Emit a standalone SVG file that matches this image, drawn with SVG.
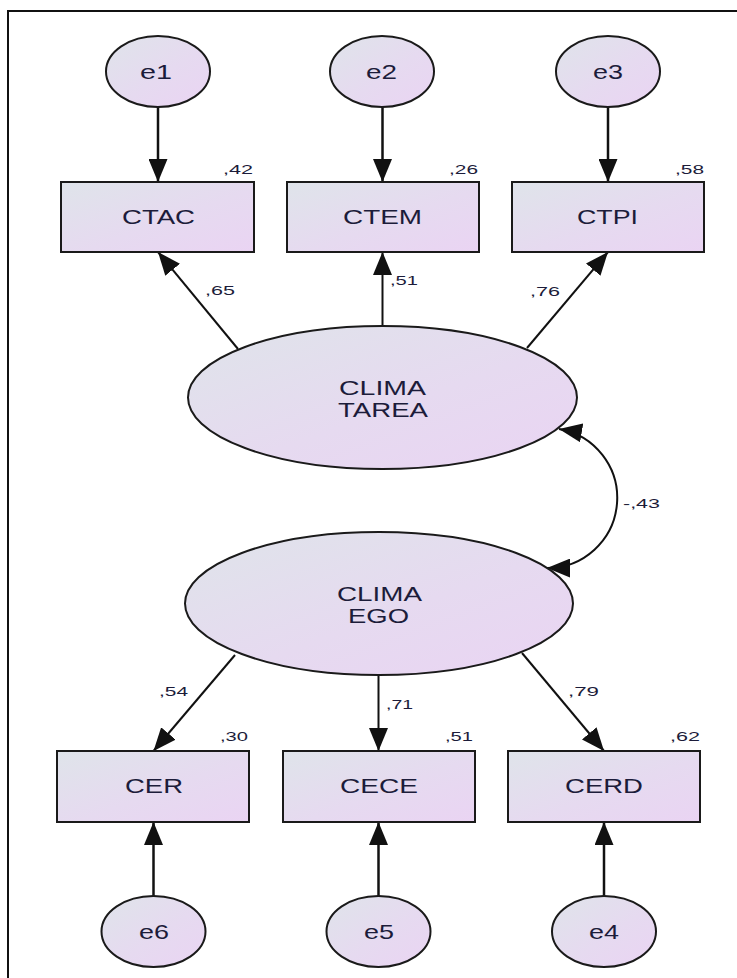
<svg xmlns="http://www.w3.org/2000/svg" width="737" height="978" viewBox="0 0 737 978">
<defs>
<linearGradient id="g" x1="0" y1="0" x2="1" y2="1">
<stop offset="0" stop-color="#dfe4ea"/>
<stop offset="0.55" stop-color="#e6daf0"/>
<stop offset="1" stop-color="#ead4f3"/>
</linearGradient>
<marker id="ah" viewBox="0 0 23 19" refX="23" refY="9.5" markerWidth="23" markerHeight="19" markerUnits="userSpaceOnUse" orient="auto-start-reverse">
<path d="M0,0 L23,9.5 L0,19 z" fill="#111"/>
</marker>
<style>
.n{fill:url(#g);stroke:#1a1a1a;stroke-width:2}
.t{font-family:"Liberation Sans",Arial,sans-serif;font-size:21px;fill:#1c1c3a}
.s{font-family:"Liberation Sans",Arial,sans-serif;font-size:13px;fill:#1c1c3a}
.ea{stroke:#111;stroke-width:2.5;fill:none;marker-end:url(#ah)}
.la{stroke:#111;stroke-width:2;fill:none;marker-end:url(#ah)}
</style>
</defs>
<rect width="737" height="978" fill="#fff"/>
<path d="M8,985 V11 H745" fill="none" stroke="#111" stroke-width="2"/>

<g id="connectors">
<line class="ea" x1="158" y1="107" x2="158" y2="182"/>
<line class="ea" x1="382.5" y1="107" x2="382.5" y2="182"/>
<line class="ea" x1="608" y1="107" x2="608" y2="182"/>
<line class="la" x1="238" y1="349" x2="158" y2="252"/>
<line class="la" x1="382.5" y1="326" x2="382.5" y2="252"/>
<line class="la" x1="527" y1="348" x2="608" y2="252"/>
<path class="la" d="M559,429 A70,70 0 0 1 547,568" style="marker-start:url(#ah)"/>
<line class="la" x1="235" y1="655" x2="153.5" y2="751"/>
<line class="la" x1="378.5" y1="676" x2="378.5" y2="751"/>
<line class="la" x1="522" y1="653" x2="604" y2="751"/>
<line class="ea" x1="153.5" y1="896" x2="153.5" y2="822"/>
<line class="ea" x1="378.5" y1="896" x2="378.5" y2="822"/>
<line class="ea" x1="604" y1="896" x2="604" y2="822"/>
<text class="s" x="205" y="295" textLength="30" lengthAdjust="spacingAndGlyphs">,65</text>
<text class="s" x="390" y="285" textLength="28" lengthAdjust="spacingAndGlyphs">,51</text>
<text class="s" x="530" y="296" textLength="30" lengthAdjust="spacingAndGlyphs">,76</text>
<text class="s" x="623" y="508" textLength="37" lengthAdjust="spacingAndGlyphs">-,43</text>
<text class="s" x="159" y="696" textLength="29" lengthAdjust="spacingAndGlyphs">,54</text>
<text class="s" x="386" y="709" textLength="27" lengthAdjust="spacingAndGlyphs">,71</text>
<text class="s" x="568" y="696" textLength="31" lengthAdjust="spacingAndGlyphs">,79</text>
</g>

<g id="e1"><ellipse class="n" cx="158" cy="71.5" rx="52" ry="35.5"/><text class="t" x="140" y="79" textLength="32" lengthAdjust="spacingAndGlyphs">e1</text></g>
<g id="e2"><ellipse class="n" cx="382" cy="71.5" rx="52" ry="35.5"/><text class="t" x="366" y="79" textLength="31" lengthAdjust="spacingAndGlyphs">e2</text></g>
<g id="e3"><ellipse class="n" cx="608" cy="71.5" rx="52" ry="35.5"/><text class="t" x="593" y="79" textLength="30" lengthAdjust="spacingAndGlyphs">e3</text></g>

<g id="CTAC"><rect class="n" x="61" y="182" width="193" height="70"/><text class="t" x="122" y="224" textLength="73" lengthAdjust="spacingAndGlyphs">CTAC</text><text class="s" x="223" y="174" textLength="30" lengthAdjust="spacingAndGlyphs">,42</text></g>
<g id="CTEM"><rect class="n" x="287" y="182" width="192" height="70"/><text class="t" x="343" y="224" textLength="79" lengthAdjust="spacingAndGlyphs">CTEM</text><text class="s" x="449" y="174" textLength="29" lengthAdjust="spacingAndGlyphs">,26</text></g>
<g id="CTPI"><rect class="n" x="512" y="182" width="192" height="70"/><text class="t" x="577" y="224" textLength="61" lengthAdjust="spacingAndGlyphs">CTPI</text><text class="s" x="675" y="174" textLength="29" lengthAdjust="spacingAndGlyphs">,58</text></g>

<g id="CLIMA_TAREA"><ellipse class="n" cx="382.5" cy="397.5" rx="194.5" ry="71.5"/><text class="t" x="190" y="395" textLength="87" lengthAdjust="spacingAndGlyphs" transform="translate(149,0)">CLIMA</text><text class="t" x="189" y="417" textLength="90" lengthAdjust="spacingAndGlyphs" transform="translate(149,0)">TAREA</text></g>
<g id="CLIMA_EGO"><ellipse class="n" cx="379" cy="603.5" rx="194" ry="71.5"/><text class="t" x="337" y="601" textLength="85" lengthAdjust="spacingAndGlyphs">CLIMA</text><text class="t" x="348" y="623" textLength="61" lengthAdjust="spacingAndGlyphs">EGO</text></g>

<g id="CER"><rect class="n" x="57" y="751" width="192" height="71"/><text class="t" x="125" y="793" textLength="58" lengthAdjust="spacingAndGlyphs">CER</text><text class="s" x="220" y="741" textLength="28" lengthAdjust="spacingAndGlyphs">,30</text></g>
<g id="CECE"><rect class="n" x="283" y="751" width="192" height="71"/><text class="t" x="340" y="793" textLength="78" lengthAdjust="spacingAndGlyphs">CECE</text><text class="s" x="445" y="741" textLength="28" lengthAdjust="spacingAndGlyphs">,51</text></g>
<g id="CERD"><rect class="n" x="508" y="751" width="192" height="71"/><text class="t" x="565" y="793" textLength="78" lengthAdjust="spacingAndGlyphs">CERD</text><text class="s" x="670" y="741" textLength="30" lengthAdjust="spacingAndGlyphs">,62</text></g>

<g id="e6"><ellipse class="n" cx="153.5" cy="931.5" rx="52" ry="35.5"/><text class="t" x="139" y="939" textLength="30" lengthAdjust="spacingAndGlyphs">e6</text></g>
<g id="e5"><ellipse class="n" cx="378.5" cy="931.5" rx="52" ry="35.5"/><text class="t" x="364" y="939" textLength="30" lengthAdjust="spacingAndGlyphs">e5</text></g>
<g id="e4"><ellipse class="n" cx="604" cy="931.5" rx="52" ry="35.5"/><text class="t" x="589" y="939" textLength="30" lengthAdjust="spacingAndGlyphs">e4</text></g>
</svg>
